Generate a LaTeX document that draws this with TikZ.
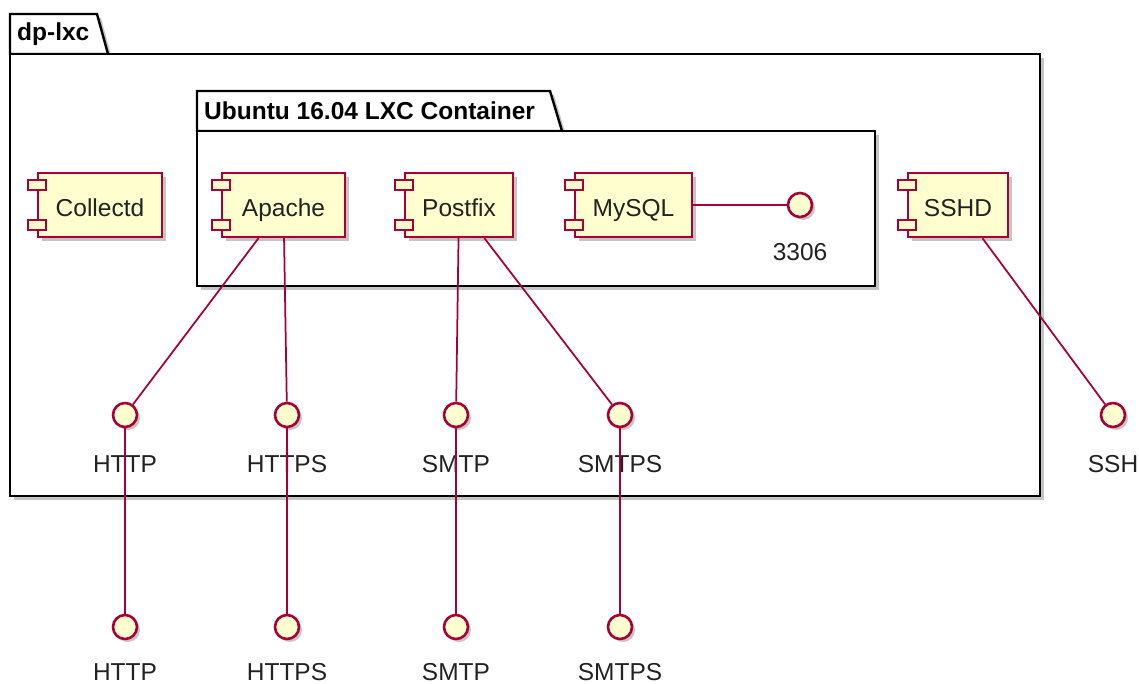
\documentclass[tikz,border=0pt]{standalone}
\usepackage{fontspec}
\setmainfont{Liberation Sans}
\usetikzlibrary{shadows}
\definecolor{umlred}{HTML}{A80036}
\definecolor{umlfill}{HTML}{FEFECE}
\definecolor{umltext}{HTML}{222222}
\tikzset{
  %% Package frames
  pkgbody/.style={
    rectangle, draw=black, fill=white, line width=2.4pt, inner sep=0pt,
    drop shadow={shadow xshift=4pt, shadow yshift=-4pt, fill=black!45, opacity=.5}},
  pkgtab/.style={
    draw=black, fill=white, line width=2.4pt, line join=miter,
    drop shadow={shadow xshift=4pt, shadow yshift=-4pt, fill=black!45, opacity=.5}},
  pkgtitle/.style={
    anchor=west, inner sep=0pt,
    font=\fontsize{24.5}{29}\selectfont\bfseries},
  %% Components
  compbox/.style={
    rectangle, draw=umlred, fill=umlfill, line width=2.4pt,
    minimum height=64pt, inner sep=0pt, text=umltext,
    text height=24pt, text depth=0pt,
    font=\fontsize{24.5}{29}\selectfont,
    drop shadow={shadow xshift=4pt, shadow yshift=-4pt, fill=black!45, opacity=.5}},
  compport/.style={draw=umlred, fill=umlfill, line width=2pt},
  %% Interfaces
  ifacenode/.style={
    circle, draw=umlred, fill=umlfill, line width=2.6pt,
    minimum size=24pt, inner sep=0pt,
    drop shadow={shadow xshift=3pt, shadow yshift=-3pt, fill=black!45, opacity=.5}},
  ifacelabel/.style={inner sep=0pt, text=umltext, font=\fontsize{24.5}{29}\selectfont},
  %% Connectors
  link/.style={draw=umlred, line width=1.75pt},
}
\begin{document}
\begin{tikzpicture}[x=1pt, y=-1pt]
  \useasboundingbox (0,0) rectangle (1139,684);

  %% dp-lxc package
  \draw[pkgtab] (10,54) -- (10,14) -- (97,14) -- (108,54) -- cycle;
  \node[pkgbody, minimum width=1030pt, minimum height=442pt] (dplxc) at (525,275) {};
  \node[pkgtitle] (dplxctitle) at (17,34) {dp-lxc};

  %% Ubuntu container package
  \draw[pkgtab] (197,131) -- (197,91) -- (550,91) -- (562,131) -- cycle;
  \node[pkgbody, minimum width=678pt, minimum height=155pt] (ubuntu) at (536,208.5) {};
  \node[pkgtitle] (ubuntutitle) at (204,111) {Ubuntu 16.04 LXC Container};

  %% Components
  \node[compbox, minimum width=124pt] (collectd) at (100,205)   {Collectd};
  \node[compbox, minimum width=123pt] (apache)   at (283.5,205) {Apache};
  \node[compbox, minimum width=108pt] (postfix)  at (459,205)   {Postfix};
  \node[compbox, minimum width=117pt] (mysql)    at (633.5,205) {MySQL};
  \node[compbox, minimum width=100pt] (sshd)     at (958,205)   {SSHD};
  \foreach \n in {collectd,apache,postfix,mysql,sshd} {
    \draw[compport] ([shift={(-9,8)}]\n.north west) rectangle ++(18,10);
    \draw[compport] ([shift={(-9,-18)}]\n.south west) rectangle ++(18,10);
  }

  %% Interfaces
  \node[ifacenode] (port3306) at (800,205) {};
  \node[ifacelabel] (lbl3306) at (800,252) {3306};

  \node[ifacenode] (http)   at (125,415) {};
  \node[ifacenode] (https)  at (287,415) {};
  \node[ifacenode] (smtp)   at (456,415) {};
  \node[ifacenode] (smtps)  at (620,415) {};
  \node[ifacenode] (ssh)    at (1113,415) {};
  \node[ifacelabel] (lblhttp)  at (125,464) {HTTP};
  \node[ifacelabel] (lblhttps) at (287,464) {HTTPS};
  \node[ifacelabel] (lblsmtp)  at (456,464) {SMTP};
  \node[ifacelabel] (lblsmtps) at (620,464) {SMTPS};
  \node[ifacelabel] (lblssh)   at (1113,464) {SSH};

  \node[ifacenode] (xhttp)  at (125,627) {};
  \node[ifacenode] (xhttps) at (287,627) {};
  \node[ifacenode] (xsmtp)  at (456,627) {};
  \node[ifacenode] (xsmtps) at (620,627) {};
  \node[ifacelabel] (lblxhttp)  at (125,672) {HTTP};
  \node[ifacelabel] (lblxhttps) at (287,672) {HTTPS};
  \node[ifacelabel] (lblxsmtp)  at (456,672) {SMTP};
  \node[ifacelabel] (lblxsmtps) at (620,672) {SMTPS};

  %% Connectors
  \draw[link] (mysql) -- (port3306);
  \draw[link] (apache) -- (http);
  \draw[link] (apache) -- (https);
  \draw[link] (postfix) -- (smtp);
  \draw[link] (postfix) -- (smtps);
  \draw[link] (sshd) -- (ssh);
  \draw[link] (http) -- (xhttp);
  \draw[link] (https) -- (xhttps);
  \draw[link] (smtp) -- (xsmtp);
  \draw[link] (smtps) -- (xsmtps);
\end{tikzpicture}
\end{document}
